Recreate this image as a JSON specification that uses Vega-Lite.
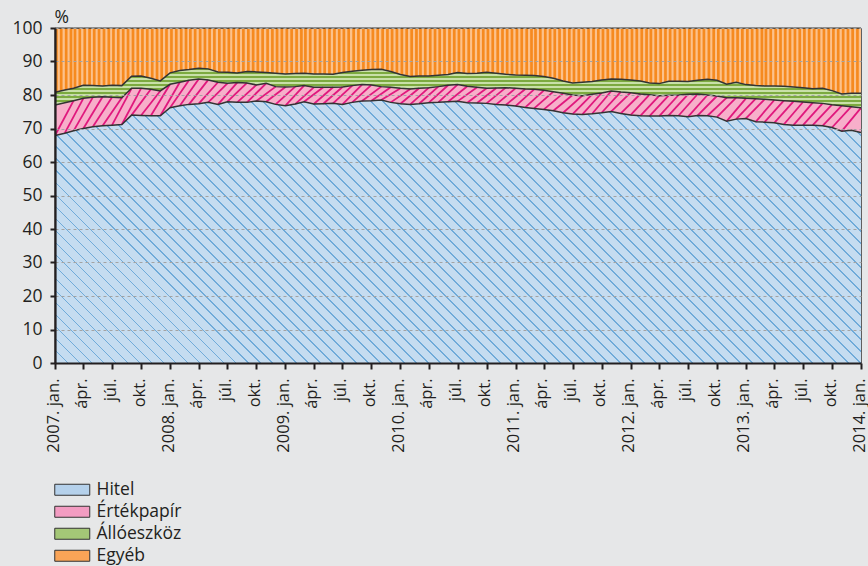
{
  "$schema": "https://vega.github.io/schema/vega-lite/v6.json",
  "width": 806,
  "height": 335,
  "autosize": "none",
  "padding": {"left": 55, "top": 28, "right": 7, "bottom": 203},
  "background": "#e6e7e8",
  "view": {"stroke": "#8c8c8c", "strokeWidth": 1},
  "data": {
    "format": {"parse": {"d": "date"}},
    "values": [
      {"d":"2007-01","Hitel":67.9,"Értékpapír":9.1,"Állóeszköz":3.8,"Egyéb":19.2},
      {"d":"2007-02","Hitel":68.6,"Értékpapír":9.1,"Állóeszköz":3.8,"Egyéb":18.5},
      {"d":"2007-03","Hitel":69.3,"Értékpapír":9.0,"Állóeszköz":3.7,"Egyéb":18.0},
      {"d":"2007-04","Hitel":70.0,"Értékpapír":9.0,"Állóeszköz":3.9,"Egyéb":17.1},
      {"d":"2007-05","Hitel":70.5,"Értékpapír":8.8,"Állóeszköz":3.5,"Egyéb":17.2},
      {"d":"2007-06","Hitel":70.8,"Értékpapír":8.7,"Állóeszköz":3.2,"Egyéb":17.3},
      {"d":"2007-07","Hitel":71.0,"Értékpapír":8.3,"Állóeszköz":3.6,"Egyéb":17.1},
      {"d":"2007-08","Hitel":71.2,"Értékpapír":8.0,"Állóeszköz":3.6,"Egyéb":17.2},
      {"d":"2007-09","Hitel":74.0,"Értékpapír":8.0,"Állóeszköz":3.6,"Egyéb":14.4},
      {"d":"2007-10","Hitel":73.9,"Értékpapír":8.1,"Állóeszköz":3.7,"Egyéb":14.3},
      {"d":"2007-11","Hitel":73.8,"Értékpapír":7.9,"Állóeszköz":3.3,"Egyéb":15.0},
      {"d":"2007-12","Hitel":73.8,"Értékpapír":7.4,"Állóeszköz":3.0,"Egyéb":15.8},
      {"d":"2008-01","Hitel":76.2,"Értékpapír":7.0,"Állóeszköz":3.4,"Egyéb":13.4},
      {"d":"2008-02","Hitel":76.8,"Értékpapír":7.0,"Állóeszköz":3.5,"Egyéb":12.7},
      {"d":"2008-03","Hitel":77.2,"Értékpapír":7.2,"Állóeszköz":3.2,"Egyéb":12.4},
      {"d":"2008-04","Hitel":77.4,"Értékpapír":7.4,"Állóeszköz":3.2,"Egyéb":12.0},
      {"d":"2008-05","Hitel":77.8,"Értékpapír":6.7,"Állóeszköz":3.3,"Egyéb":12.2},
      {"d":"2008-06","Hitel":77.2,"Értékpapír":6.6,"Állóeszköz":3.1,"Egyéb":13.1},
      {"d":"2008-07","Hitel":78.0,"Értékpapír":5.5,"Állóeszköz":3.3,"Egyéb":13.2},
      {"d":"2008-08","Hitel":77.8,"Értékpapír":5.9,"Állóeszköz":2.9,"Egyéb":13.4},
      {"d":"2008-09","Hitel":77.8,"Értékpapír":5.8,"Állóeszköz":3.4,"Egyéb":13.0},
      {"d":"2008-10","Hitel":78.2,"Értékpapír":4.8,"Állóeszköz":3.9,"Egyéb":13.1},
      {"d":"2008-11","Hitel":78.0,"Értékpapír":5.5,"Állóeszköz":3.2,"Egyéb":13.3},
      {"d":"2008-12","Hitel":77.2,"Értékpapír":5.3,"Állóeszköz":4.0,"Egyéb":13.5},
      {"d":"2009-01","Hitel":76.8,"Értékpapír":5.6,"Állóeszköz":3.9,"Egyéb":13.7},
      {"d":"2009-02","Hitel":77.3,"Értékpapír":5.2,"Állóeszköz":3.9,"Egyéb":13.6},
      {"d":"2009-03","Hitel":78.0,"Értékpapír":4.8,"Állóeszköz":3.7,"Egyéb":13.5},
      {"d":"2009-04","Hitel":77.3,"Értékpapír":5.0,"Állóeszköz":4.0,"Egyéb":13.7},
      {"d":"2009-05","Hitel":77.4,"Értékpapír":4.9,"Állóeszköz":4.0,"Egyéb":13.7},
      {"d":"2009-06","Hitel":77.5,"Értékpapír":4.8,"Állóeszköz":3.9,"Egyéb":13.8},
      {"d":"2009-07","Hitel":77.2,"Értékpapír":5.2,"Állóeszköz":4.3,"Egyéb":13.3},
      {"d":"2009-08","Hitel":77.8,"Értékpapír":5.0,"Állóeszköz":4.3,"Egyéb":12.9},
      {"d":"2009-09","Hitel":78.2,"Értékpapír":4.9,"Állóeszköz":4.3,"Egyéb":12.6},
      {"d":"2009-10","Hitel":78.3,"Értékpapír":4.7,"Állóeszköz":4.6,"Egyéb":12.4},
      {"d":"2009-11","Hitel":78.5,"Értékpapír":4.0,"Állóeszköz":5.2,"Egyéb":12.3},
      {"d":"2009-12","Hitel":77.8,"Értékpapír":4.5,"Állóeszköz":4.7,"Egyéb":13.0},
      {"d":"2010-01","Hitel":77.4,"Értékpapír":4.6,"Állóeszköz":4.1,"Egyéb":13.9},
      {"d":"2010-02","Hitel":77.2,"Értékpapír":4.6,"Állóeszköz":3.7,"Egyéb":14.5},
      {"d":"2010-03","Hitel":77.4,"Értékpapír":4.6,"Állóeszköz":3.7,"Egyéb":14.3},
      {"d":"2010-04","Hitel":77.7,"Értékpapír":4.5,"Állóeszköz":3.5,"Egyéb":14.3},
      {"d":"2010-05","Hitel":77.8,"Értékpapír":4.7,"Állóeszköz":3.4,"Egyéb":14.1},
      {"d":"2010-06","Hitel":78.0,"Értékpapír":4.9,"Állóeszköz":3.2,"Egyéb":13.9},
      {"d":"2010-07","Hitel":78.1,"Értékpapír":5.0,"Állóeszköz":3.6,"Egyéb":13.3},
      {"d":"2010-08","Hitel":77.7,"Értékpapír":4.9,"Állóeszköz":3.8,"Egyéb":13.6},
      {"d":"2010-09","Hitel":77.6,"Értékpapír":4.7,"Állóeszköz":4.2,"Egyéb":13.5},
      {"d":"2010-10","Hitel":77.5,"Értékpapír":4.5,"Állóeszköz":4.8,"Egyéb":13.2},
      {"d":"2010-11","Hitel":77.2,"Értékpapír":4.9,"Állóeszköz":4.4,"Egyéb":13.5},
      {"d":"2010-12","Hitel":77.0,"Értékpapír":5.2,"Állóeszköz":4.0,"Egyéb":13.8},
      {"d":"2011-01","Hitel":76.7,"Értékpapír":5.3,"Állóeszköz":4.0,"Egyéb":14.0},
      {"d":"2011-02","Hitel":76.3,"Értékpapír":5.5,"Állóeszköz":4.1,"Egyéb":14.1},
      {"d":"2011-03","Hitel":76.0,"Értékpapír":5.7,"Állóeszköz":4.1,"Egyéb":14.2},
      {"d":"2011-04","Hitel":75.7,"Értékpapír":5.7,"Állóeszköz":4.1,"Egyéb":14.5},
      {"d":"2011-05","Hitel":75.3,"Értékpapír":5.7,"Állóeszköz":4.0,"Egyéb":15.0},
      {"d":"2011-06","Hitel":74.7,"Értékpapír":5.8,"Állóeszköz":3.7,"Egyéb":15.8},
      {"d":"2011-07","Hitel":74.3,"Értékpapír":5.7,"Állóeszköz":3.6,"Egyéb":16.4},
      {"d":"2011-08","Hitel":74.2,"Értékpapír":5.6,"Állóeszköz":4.0,"Egyéb":16.2},
      {"d":"2011-09","Hitel":74.4,"Értékpapír":5.8,"Állóeszköz":3.8,"Egyéb":16.0},
      {"d":"2011-10","Hitel":74.7,"Értékpapír":5.9,"Állóeszköz":3.9,"Egyéb":15.5},
      {"d":"2011-11","Hitel":75.1,"Értékpapír":6.1,"Állóeszköz":3.6,"Egyéb":15.2},
      {"d":"2011-12","Hitel":74.5,"Értékpapír":6.4,"Állóeszköz":3.8,"Egyéb":15.3},
      {"d":"2012-01","Hitel":74.0,"Értékpapír":6.7,"Állóeszköz":3.8,"Egyéb":15.5},
      {"d":"2012-02","Hitel":73.8,"Értékpapír":6.5,"Állóeszköz":3.9,"Egyéb":15.8},
      {"d":"2012-03","Hitel":73.7,"Értékpapír":6.4,"Állóeszköz":3.5,"Egyéb":16.4},
      {"d":"2012-04","Hitel":73.7,"Értékpapír":6.1,"Állóeszköz":3.6,"Egyéb":16.6},
      {"d":"2012-05","Hitel":73.9,"Értékpapír":6.0,"Állóeszköz":4.2,"Egyéb":15.9},
      {"d":"2012-06","Hitel":73.8,"Értékpapír":6.2,"Állóeszköz":4.1,"Egyéb":15.9},
      {"d":"2012-07","Hitel":73.5,"Értékpapír":6.7,"Állóeszköz":3.8,"Egyéb":16.0},
      {"d":"2012-08","Hitel":73.9,"Értékpapír":6.4,"Állóeszköz":4.1,"Egyéb":15.6},
      {"d":"2012-09","Hitel":73.8,"Értékpapír":6.2,"Állóeszköz":4.7,"Egyéb":15.3},
      {"d":"2012-10","Hitel":73.4,"Értékpapír":6.3,"Állóeszköz":4.7,"Egyéb":15.6},
      {"d":"2012-11","Hitel":72.2,"Értékpapír":7.0,"Állóeszköz":4.0,"Egyéb":16.8},
      {"d":"2012-12","Hitel":72.8,"Értékpapír":6.4,"Állóeszköz":4.6,"Egyéb":16.2},
      {"d":"2013-01","Hitel":73.0,"Értékpapír":6.0,"Állóeszköz":4.1,"Egyéb":16.9},
      {"d":"2013-02","Hitel":72.0,"Értékpapír":6.9,"Állóeszköz":3.9,"Egyéb":17.2},
      {"d":"2013-03","Hitel":71.9,"Értékpapír":6.8,"Állóeszköz":4.0,"Egyéb":17.3},
      {"d":"2013-04","Hitel":71.7,"Értékpapír":6.8,"Állóeszköz":4.2,"Egyéb":17.3},
      {"d":"2013-05","Hitel":71.2,"Értékpapír":7.1,"Állóeszköz":4.3,"Egyéb":17.4},
      {"d":"2013-06","Hitel":71.0,"Értékpapír":7.1,"Állóeszköz":4.3,"Egyéb":17.6},
      {"d":"2013-07","Hitel":71.0,"Értékpapír":6.9,"Állóeszköz":4.3,"Egyéb":17.8},
      {"d":"2013-08","Hitel":71.0,"Értékpapír":6.7,"Állóeszköz":4.2,"Egyéb":18.1},
      {"d":"2013-09","Hitel":70.8,"Értékpapír":6.7,"Állóeszköz":4.5,"Egyéb":18.0},
      {"d":"2013-10","Hitel":70.3,"Értékpapír":6.8,"Állóeszköz":4.2,"Egyéb":18.7},
      {"d":"2013-11","Hitel":69.2,"Értékpapír":7.6,"Állóeszköz":3.5,"Egyéb":19.7},
      {"d":"2013-12","Hitel":69.5,"Értékpapír":7.0,"Állóeszköz":4.0,"Egyéb":19.5},
      {"d":"2014-01","Hitel":68.8,"Értékpapír":7.4,"Állóeszköz":4.3,"Egyéb":19.5}
    ]
  },
  "transform": [
    {"fold": ["Hitel", "Értékpapír", "Állóeszköz", "Egyéb"], "as": ["series", "value"]},
    {"window": [{"op": "row_number", "as": "k"}], "groupby": ["d"]},
    {"stack": "value", "groupby": ["d"], "sort": [{"field": "k", "order": "ascending"}], "as": ["v0", "v1"]}
  ],
  "encoding": {
    "x": {"field": "d", "type": "temporal", "scale": {"type": "utc", "domain": [{"year": 2007, "month": 1, "date": 1, "utc": true}, {"year": 2014, "month": 1, "date": 1, "utc": true}]},
      "axis": {
        "title": null,
        "tickCount": {"interval": "month", "step": 3},
        "labelExpr": "utcmonth(datum.value) == 0 ? utcyear(datum.value) + '. jan.' : utcmonth(datum.value) == 3 ? 'ápr.' : utcmonth(datum.value) == 6 ? 'júl.' : 'okt.'",
        "labelAngle": -90,
        "labelAlign": "right",
        "labelBaseline": "middle",
        "labelFontSize": 16.5,
        "labelPadding": 9,
        "labelOffset": -2,
        "labelFlush": false,
        "labelOverlap": false,
        "grid": false,
        "tickSize": 6,
        "tickWidth": 2,
        "tickColor": "#231f20",
        "domainColor": "#231f20",
        "domainWidth": 2.2,
        "zindex": 1
      }
    },
    "y": {"field": "v1", "type": "quantitative", "scale": {"domain": [0, 100], "nice": false, "zero": false},
      "axis": {
        "title": "%",
        "titleAngle": 0,
        "titleAlign": "left",
        "titleBaseline": "alphabetic",
        "titleX": -1,
        "titleY": -6,
        "titleFontSize": 17.5,
        "titleFontWeight": "normal",
        "titleColor": "#231f20",
        "values": [0, 10, 20, 30, 40, 50, 60, 70, 80, 90, 100],
        "labelOverlap": false,
        "labelPadding": 8,
        "grid": true,
        "gridColor": "#a3a3a3",
        "gridDash": [3, 3],
        "gridWidth": 1.2,
        "tickSize": 5,
        "tickWidth": 2,
        "tickColor": "#231f20",
        "domainColor": "#231f20",
        "domainWidth": 2.2,
        "zindex": 1
      }
    }
  },
  "layer": [
    {
      "mark": {"type": "area", "opacity": 1, "stroke": "#333333", "strokeWidth": 1},
      "encoding": {
        "y2": {"field": "v0"},
        "fill": {"field": "series", "type": "nominal",
          "scale": {"domain": ["Hitel", "Értékpapír", "Állóeszköz", "Egyéb"], "range": ["#b5d1eb", "#f39cc2", "#a4c777", "#f9a457"]},
          "legend": {"title": null, "orient": "none", "legendX": 8.5, "legendY": 453, "direction": "vertical",
            "symbolStrokeColor": "#333333", "symbolStrokeWidth": 1}
        }
      }
    },
    {
      "transform": [{"filter": {"field": "series", "equal": "Hitel"}}],
      "mark": {"type": "area", "opacity": 1,
        "fill": {"gradient": "linear", "x1": 0, "y1": 1, "x2": 1.1987, "y2": 0.6089, "stops": [
          {"offset":0,"color":"#70abd9"},{"offset":0.0017,"color":"#70abd9"},{"offset":0.0017,"color":"#c5dcf0"},{"offset":0.01124,"color":"#c5dcf0"},
          {"offset":0.01124,"color":"#70abd9"},{"offset":0.01294,"color":"#70abd9"},{"offset":0.01294,"color":"#c5dcf0"},{"offset":0.02247,"color":"#c5dcf0"},
          {"offset":0.02247,"color":"#70abd9"},{"offset":0.02417,"color":"#70abd9"},{"offset":0.02417,"color":"#c5dcf0"},{"offset":0.03371,"color":"#c5dcf0"},
          {"offset":0.03371,"color":"#70abd9"},{"offset":0.03541,"color":"#70abd9"},{"offset":0.03541,"color":"#c5dcf0"},{"offset":0.04494,"color":"#c5dcf0"},
          {"offset":0.04494,"color":"#70abd9"},{"offset":0.04664,"color":"#70abd9"},{"offset":0.04664,"color":"#c5dcf0"},{"offset":0.05618,"color":"#c5dcf0"},
          {"offset":0.05618,"color":"#70abd9"},{"offset":0.05788,"color":"#70abd9"},{"offset":0.05788,"color":"#c5dcf0"},{"offset":0.06742,"color":"#c5dcf0"},
          {"offset":0.06742,"color":"#70abd9"},{"offset":0.06912,"color":"#70abd9"},{"offset":0.06912,"color":"#c5dcf0"},{"offset":0.07865,"color":"#c5dcf0"},
          {"offset":0.07865,"color":"#70abd9"},{"offset":0.08035,"color":"#70abd9"},{"offset":0.08035,"color":"#c5dcf0"},{"offset":0.08989,"color":"#c5dcf0"},
          {"offset":0.08989,"color":"#70abd9"},{"offset":0.09159,"color":"#70abd9"},{"offset":0.09159,"color":"#c5dcf0"},{"offset":0.10112,"color":"#c5dcf0"},
          {"offset":0.10112,"color":"#70abd9"},{"offset":0.10282,"color":"#70abd9"},{"offset":0.10282,"color":"#c5dcf0"},{"offset":0.11236,"color":"#c5dcf0"},
          {"offset":0.11236,"color":"#70abd9"},{"offset":0.11406,"color":"#70abd9"},{"offset":0.11406,"color":"#c5dcf0"},{"offset":0.1236,"color":"#c5dcf0"},
          {"offset":0.1236,"color":"#70abd9"},{"offset":0.1253,"color":"#70abd9"},{"offset":0.1253,"color":"#c5dcf0"},{"offset":0.13483,"color":"#c5dcf0"},
          {"offset":0.13483,"color":"#70abd9"},{"offset":0.13653,"color":"#70abd9"},{"offset":0.13653,"color":"#c5dcf0"},{"offset":0.14607,"color":"#c5dcf0"},
          {"offset":0.14607,"color":"#70abd9"},{"offset":0.14777,"color":"#70abd9"},{"offset":0.14777,"color":"#c5dcf0"},{"offset":0.1573,"color":"#c5dcf0"},
          {"offset":0.1573,"color":"#70abd9"},{"offset":0.159,"color":"#70abd9"},{"offset":0.159,"color":"#c5dcf0"},{"offset":0.16854,"color":"#c5dcf0"},
          {"offset":0.16854,"color":"#70abd9"},{"offset":0.17024,"color":"#70abd9"},{"offset":0.17024,"color":"#c5dcf0"},{"offset":0.17978,"color":"#c5dcf0"},
          {"offset":0.17978,"color":"#70abd9"},{"offset":0.18148,"color":"#70abd9"},{"offset":0.18148,"color":"#c5dcf0"},{"offset":0.19101,"color":"#c5dcf0"},
          {"offset":0.19101,"color":"#70abd9"},{"offset":0.19271,"color":"#70abd9"},{"offset":0.19271,"color":"#c5dcf0"},{"offset":0.20225,"color":"#c5dcf0"},
          {"offset":0.20225,"color":"#70abd9"},{"offset":0.20395,"color":"#70abd9"},{"offset":0.20395,"color":"#c5dcf0"},{"offset":0.21348,"color":"#c5dcf0"},
          {"offset":0.21348,"color":"#70abd9"},{"offset":0.21518,"color":"#70abd9"},{"offset":0.21518,"color":"#c5dcf0"},{"offset":0.22472,"color":"#c5dcf0"},
          {"offset":0.22472,"color":"#70abd9"},{"offset":0.22642,"color":"#70abd9"},{"offset":0.22642,"color":"#c5dcf0"},{"offset":0.23596,"color":"#c5dcf0"},
          {"offset":0.23596,"color":"#70abd9"},{"offset":0.23766,"color":"#70abd9"},{"offset":0.23766,"color":"#c5dcf0"},{"offset":0.24719,"color":"#c5dcf0"},
          {"offset":0.24719,"color":"#70abd9"},{"offset":0.24889,"color":"#70abd9"},{"offset":0.24889,"color":"#c5dcf0"},{"offset":0.25843,"color":"#c5dcf0"},
          {"offset":0.25843,"color":"#70abd9"},{"offset":0.26013,"color":"#70abd9"},{"offset":0.26013,"color":"#c5dcf0"},{"offset":0.26966,"color":"#c5dcf0"},
          {"offset":0.26966,"color":"#70abd9"},{"offset":0.27136,"color":"#70abd9"},{"offset":0.27136,"color":"#c5dcf0"},{"offset":0.2809,"color":"#c5dcf0"},
          {"offset":0.2809,"color":"#70abd9"},{"offset":0.2826,"color":"#70abd9"},{"offset":0.2826,"color":"#c5dcf0"},{"offset":0.29213,"color":"#c5dcf0"},
          {"offset":0.29213,"color":"#70abd9"},{"offset":0.29383,"color":"#70abd9"},{"offset":0.29383,"color":"#c5dcf0"},{"offset":0.30337,"color":"#c5dcf0"},
          {"offset":0.30337,"color":"#70abd9"},{"offset":0.30507,"color":"#70abd9"},{"offset":0.30507,"color":"#c5dcf0"},{"offset":0.31461,"color":"#c5dcf0"},
          {"offset":0.31461,"color":"#70abd9"},{"offset":0.31631,"color":"#70abd9"},{"offset":0.31631,"color":"#c5dcf0"},{"offset":0.32584,"color":"#c5dcf0"},
          {"offset":0.32584,"color":"#70abd9"},{"offset":0.32754,"color":"#70abd9"},{"offset":0.32754,"color":"#c5dcf0"},{"offset":0.33708,"color":"#c5dcf0"},
          {"offset":0.33708,"color":"#70abd9"},{"offset":0.33878,"color":"#70abd9"},{"offset":0.33878,"color":"#c5dcf0"},{"offset":0.34831,"color":"#c5dcf0"},
          {"offset":0.34831,"color":"#70abd9"},{"offset":0.35001,"color":"#70abd9"},{"offset":0.35001,"color":"#c5dcf0"},{"offset":0.35955,"color":"#c5dcf0"},
          {"offset":0.35955,"color":"#70abd9"},{"offset":0.36125,"color":"#70abd9"},{"offset":0.36125,"color":"#c5dcf0"},{"offset":0.37079,"color":"#c5dcf0"},
          {"offset":0.37079,"color":"#70abd9"},{"offset":0.37249,"color":"#70abd9"},{"offset":0.37249,"color":"#c5dcf0"},{"offset":0.38202,"color":"#c5dcf0"},
          {"offset":0.38202,"color":"#70abd9"},{"offset":0.38372,"color":"#70abd9"},{"offset":0.38372,"color":"#c5dcf0"},{"offset":0.39326,"color":"#c5dcf0"},
          {"offset":0.39326,"color":"#70abd9"},{"offset":0.39496,"color":"#70abd9"},{"offset":0.39496,"color":"#c5dcf0"},{"offset":0.40449,"color":"#c5dcf0"},
          {"offset":0.40449,"color":"#70abd9"},{"offset":0.40619,"color":"#70abd9"},{"offset":0.40619,"color":"#c5dcf0"},{"offset":0.41573,"color":"#c5dcf0"},
          {"offset":0.41573,"color":"#70abd9"},{"offset":0.41743,"color":"#70abd9"},{"offset":0.41743,"color":"#c5dcf0"},{"offset":0.42697,"color":"#c5dcf0"},
          {"offset":0.42697,"color":"#70abd9"},{"offset":0.42867,"color":"#70abd9"},{"offset":0.42867,"color":"#c5dcf0"},{"offset":0.4382,"color":"#c5dcf0"},
          {"offset":0.4382,"color":"#70abd9"},{"offset":0.4399,"color":"#70abd9"},{"offset":0.4399,"color":"#c5dcf0"},{"offset":0.44944,"color":"#c5dcf0"},
          {"offset":0.44944,"color":"#70abd9"},{"offset":0.45114,"color":"#70abd9"},{"offset":0.45114,"color":"#c5dcf0"},{"offset":0.46067,"color":"#c5dcf0"},
          {"offset":0.46067,"color":"#70abd9"},{"offset":0.46237,"color":"#70abd9"},{"offset":0.46237,"color":"#c5dcf0"},{"offset":0.47191,"color":"#c5dcf0"},
          {"offset":0.47191,"color":"#70abd9"},{"offset":0.47361,"color":"#70abd9"},{"offset":0.47361,"color":"#c5dcf0"},{"offset":0.48315,"color":"#c5dcf0"},
          {"offset":0.48315,"color":"#70abd9"},{"offset":0.48485,"color":"#70abd9"},{"offset":0.48485,"color":"#c5dcf0"},{"offset":0.49438,"color":"#c5dcf0"},
          {"offset":0.49438,"color":"#70abd9"},{"offset":0.49608,"color":"#70abd9"},{"offset":0.49608,"color":"#c5dcf0"},{"offset":0.50562,"color":"#c5dcf0"},
          {"offset":0.50562,"color":"#70abd9"},{"offset":0.50732,"color":"#70abd9"},{"offset":0.50732,"color":"#c5dcf0"},{"offset":0.51685,"color":"#c5dcf0"},
          {"offset":0.51685,"color":"#70abd9"},{"offset":0.51855,"color":"#70abd9"},{"offset":0.51855,"color":"#c5dcf0"},{"offset":0.52809,"color":"#c5dcf0"},
          {"offset":0.52809,"color":"#70abd9"},{"offset":0.52979,"color":"#70abd9"},{"offset":0.52979,"color":"#c5dcf0"},{"offset":0.53933,"color":"#c5dcf0"},
          {"offset":0.53933,"color":"#70abd9"},{"offset":0.54103,"color":"#70abd9"},{"offset":0.54103,"color":"#c5dcf0"},{"offset":0.55056,"color":"#c5dcf0"},
          {"offset":0.55056,"color":"#70abd9"},{"offset":0.55226,"color":"#70abd9"},{"offset":0.55226,"color":"#c5dcf0"},{"offset":0.5618,"color":"#c5dcf0"},
          {"offset":0.5618,"color":"#70abd9"},{"offset":0.5635,"color":"#70abd9"},{"offset":0.5635,"color":"#c5dcf0"},{"offset":0.57303,"color":"#c5dcf0"},
          {"offset":0.57303,"color":"#70abd9"},{"offset":0.57473,"color":"#70abd9"},{"offset":0.57473,"color":"#c5dcf0"},{"offset":0.58427,"color":"#c5dcf0"},
          {"offset":0.58427,"color":"#70abd9"},{"offset":0.58597,"color":"#70abd9"},{"offset":0.58597,"color":"#c5dcf0"},{"offset":0.59551,"color":"#c5dcf0"},
          {"offset":0.59551,"color":"#70abd9"},{"offset":0.59721,"color":"#70abd9"},{"offset":0.59721,"color":"#c5dcf0"},{"offset":0.60674,"color":"#c5dcf0"},
          {"offset":0.60674,"color":"#70abd9"},{"offset":0.60844,"color":"#70abd9"},{"offset":0.60844,"color":"#c5dcf0"},{"offset":0.61798,"color":"#c5dcf0"},
          {"offset":0.61798,"color":"#70abd9"},{"offset":0.61968,"color":"#70abd9"},{"offset":0.61968,"color":"#c5dcf0"},{"offset":0.62921,"color":"#c5dcf0"},
          {"offset":0.62921,"color":"#70abd9"},{"offset":0.63091,"color":"#70abd9"},{"offset":0.63091,"color":"#c5dcf0"},{"offset":0.64045,"color":"#c5dcf0"},
          {"offset":0.64045,"color":"#70abd9"},{"offset":0.64215,"color":"#70abd9"},{"offset":0.64215,"color":"#c5dcf0"},{"offset":0.65169,"color":"#c5dcf0"},
          {"offset":0.65169,"color":"#70abd9"},{"offset":0.65339,"color":"#70abd9"},{"offset":0.65339,"color":"#c5dcf0"},{"offset":0.66292,"color":"#c5dcf0"},
          {"offset":0.66292,"color":"#70abd9"},{"offset":0.66462,"color":"#70abd9"},{"offset":0.66462,"color":"#c5dcf0"},{"offset":0.67416,"color":"#c5dcf0"},
          {"offset":0.67416,"color":"#70abd9"},{"offset":0.67586,"color":"#70abd9"},{"offset":0.67586,"color":"#c5dcf0"},{"offset":0.68539,"color":"#c5dcf0"},
          {"offset":0.68539,"color":"#70abd9"},{"offset":0.68709,"color":"#70abd9"},{"offset":0.68709,"color":"#c5dcf0"},{"offset":0.69663,"color":"#c5dcf0"},
          {"offset":0.69663,"color":"#70abd9"},{"offset":0.69833,"color":"#70abd9"},{"offset":0.69833,"color":"#c5dcf0"},{"offset":0.70787,"color":"#c5dcf0"},
          {"offset":0.70787,"color":"#70abd9"},{"offset":0.70957,"color":"#70abd9"},{"offset":0.70957,"color":"#c5dcf0"},{"offset":0.7191,"color":"#c5dcf0"},
          {"offset":0.7191,"color":"#70abd9"},{"offset":0.7208,"color":"#70abd9"},{"offset":0.7208,"color":"#c5dcf0"},{"offset":0.73034,"color":"#c5dcf0"},
          {"offset":0.73034,"color":"#70abd9"},{"offset":0.73204,"color":"#70abd9"},{"offset":0.73204,"color":"#c5dcf0"},{"offset":0.74157,"color":"#c5dcf0"},
          {"offset":0.74157,"color":"#70abd9"},{"offset":0.74327,"color":"#70abd9"},{"offset":0.74327,"color":"#c5dcf0"},{"offset":0.75281,"color":"#c5dcf0"},
          {"offset":0.75281,"color":"#70abd9"},{"offset":0.75451,"color":"#70abd9"},{"offset":0.75451,"color":"#c5dcf0"},{"offset":0.76404,"color":"#c5dcf0"},
          {"offset":0.76404,"color":"#70abd9"},{"offset":0.76574,"color":"#70abd9"},{"offset":0.76574,"color":"#c5dcf0"},{"offset":0.77528,"color":"#c5dcf0"},
          {"offset":0.77528,"color":"#70abd9"},{"offset":0.77698,"color":"#70abd9"},{"offset":0.77698,"color":"#c5dcf0"},{"offset":0.78652,"color":"#c5dcf0"},
          {"offset":0.78652,"color":"#70abd9"},{"offset":0.78822,"color":"#70abd9"},{"offset":0.78822,"color":"#c5dcf0"},{"offset":0.79775,"color":"#c5dcf0"},
          {"offset":0.79775,"color":"#70abd9"},{"offset":0.79945,"color":"#70abd9"},{"offset":0.79945,"color":"#c5dcf0"},{"offset":0.80899,"color":"#c5dcf0"},
          {"offset":0.80899,"color":"#70abd9"},{"offset":0.81069,"color":"#70abd9"},{"offset":0.81069,"color":"#c5dcf0"},{"offset":0.82022,"color":"#c5dcf0"},
          {"offset":0.82022,"color":"#70abd9"},{"offset":0.82192,"color":"#70abd9"},{"offset":0.82192,"color":"#c5dcf0"},{"offset":0.83146,"color":"#c5dcf0"},
          {"offset":0.83146,"color":"#70abd9"},{"offset":0.83316,"color":"#70abd9"},{"offset":0.83316,"color":"#c5dcf0"},{"offset":0.8427,"color":"#c5dcf0"},
          {"offset":0.8427,"color":"#70abd9"},{"offset":0.8444,"color":"#70abd9"},{"offset":0.8444,"color":"#c5dcf0"},{"offset":0.85393,"color":"#c5dcf0"},
          {"offset":0.85393,"color":"#70abd9"},{"offset":0.85563,"color":"#70abd9"},{"offset":0.85563,"color":"#c5dcf0"},{"offset":0.86517,"color":"#c5dcf0"},
          {"offset":0.86517,"color":"#70abd9"},{"offset":0.86687,"color":"#70abd9"},{"offset":0.86687,"color":"#c5dcf0"},{"offset":0.8764,"color":"#c5dcf0"},
          {"offset":0.8764,"color":"#70abd9"},{"offset":0.8781,"color":"#70abd9"},{"offset":0.8781,"color":"#c5dcf0"},{"offset":0.88764,"color":"#c5dcf0"},
          {"offset":0.88764,"color":"#70abd9"},{"offset":0.88934,"color":"#70abd9"},{"offset":0.88934,"color":"#c5dcf0"},{"offset":0.89888,"color":"#c5dcf0"},
          {"offset":0.89888,"color":"#70abd9"},{"offset":0.90058,"color":"#70abd9"},{"offset":0.90058,"color":"#c5dcf0"},{"offset":0.91011,"color":"#c5dcf0"},
          {"offset":0.91011,"color":"#70abd9"},{"offset":0.91181,"color":"#70abd9"},{"offset":0.91181,"color":"#c5dcf0"},{"offset":0.92135,"color":"#c5dcf0"},
          {"offset":0.92135,"color":"#70abd9"},{"offset":0.92305,"color":"#70abd9"},{"offset":0.92305,"color":"#c5dcf0"},{"offset":0.93258,"color":"#c5dcf0"},
          {"offset":0.93258,"color":"#70abd9"},{"offset":0.93428,"color":"#70abd9"},{"offset":0.93428,"color":"#c5dcf0"},{"offset":0.94382,"color":"#c5dcf0"},
          {"offset":0.94382,"color":"#70abd9"},{"offset":0.94552,"color":"#70abd9"},{"offset":0.94552,"color":"#c5dcf0"},{"offset":0.95506,"color":"#c5dcf0"},
          {"offset":0.95506,"color":"#70abd9"},{"offset":0.95676,"color":"#70abd9"},{"offset":0.95676,"color":"#c5dcf0"},{"offset":0.96629,"color":"#c5dcf0"},
          {"offset":0.96629,"color":"#70abd9"},{"offset":0.96799,"color":"#70abd9"},{"offset":0.96799,"color":"#c5dcf0"},{"offset":0.97753,"color":"#c5dcf0"},
          {"offset":0.97753,"color":"#70abd9"},{"offset":0.97923,"color":"#70abd9"},{"offset":0.97923,"color":"#c5dcf0"},{"offset":0.98876,"color":"#c5dcf0"},
          {"offset":0.98876,"color":"#70abd9"},{"offset":0.99046,"color":"#70abd9"},{"offset":0.99046,"color":"#c5dcf0"},{"offset":1,"color":"#c5dcf0"}
        ]}
      },
      "encoding": {
        "y2": {"field": "v0"}
      }
    },
    {
      "transform": [{"filter": {"field": "series", "equal": "Egyéb"}}],
      "mark": {"type": "area", "color": "#fcc18b", "opacity": 1},
      "encoding": {
        "y2": {"field": "v0"}
      }
    },
    {
      "transform": [{"filter": {"field": "series", "equal": "Értékpapír"}}],
      "mark": {"type": "rule", "clip": true, "strokeWidth": 2.7, "color": "#f68a1f", "xOffset": 1.4},
      "encoding": {
        "y2": {"datum": 100}
      }
    },
    {
      "transform": [{"filter": {"field": "series", "equal": "Értékpapír"}}],
      "mark": {"type": "rule", "clip": true, "strokeWidth": 2.7, "color": "#f68a1f", "xOffset": 6.2},
      "encoding": {
        "y2": {"datum": 100}
      }
    },
    {
      "transform": [{"filter": {"field": "series", "equal": "Állóeszköz"}}],
      "mark": {"type": "area", "opacity": 1,
        "fill": {"gradient": "linear", "x1": 0, "y1": 0, "x2": 0, "y2": 1, "stops": [
          {"offset": 0, "color": "#7caa40"}, {"offset": 0.055, "color": "#7caa40"}, {"offset": 0.055, "color": "#c8e0a8"}, {"offset": 0.1, "color": "#c8e0a8"},
          {"offset": 0.1, "color": "#7caa40"}, {"offset": 0.155, "color": "#7caa40"}, {"offset": 0.155, "color": "#c8e0a8"}, {"offset": 0.2, "color": "#c8e0a8"},
          {"offset": 0.2, "color": "#7caa40"}, {"offset": 0.255, "color": "#7caa40"}, {"offset": 0.255, "color": "#c8e0a8"}, {"offset": 0.3, "color": "#c8e0a8"},
          {"offset": 0.3, "color": "#7caa40"}, {"offset": 0.355, "color": "#7caa40"}, {"offset": 0.355, "color": "#c8e0a8"}, {"offset": 0.4, "color": "#c8e0a8"},
          {"offset": 0.4, "color": "#7caa40"}, {"offset": 0.455, "color": "#7caa40"}, {"offset": 0.455, "color": "#c8e0a8"}, {"offset": 0.5, "color": "#c8e0a8"},
          {"offset": 0.5, "color": "#7caa40"}, {"offset": 0.555, "color": "#7caa40"}, {"offset": 0.555, "color": "#c8e0a8"}, {"offset": 0.6, "color": "#c8e0a8"},
          {"offset": 0.6, "color": "#7caa40"}, {"offset": 0.655, "color": "#7caa40"}, {"offset": 0.655, "color": "#c8e0a8"}, {"offset": 0.7, "color": "#c8e0a8"},
          {"offset": 0.7, "color": "#7caa40"}, {"offset": 0.755, "color": "#7caa40"}, {"offset": 0.755, "color": "#c8e0a8"}, {"offset": 0.8, "color": "#c8e0a8"},
          {"offset": 0.8, "color": "#7caa40"}, {"offset": 0.855, "color": "#7caa40"}, {"offset": 0.855, "color": "#c8e0a8"}, {"offset": 0.9, "color": "#c8e0a8"},
          {"offset": 0.9, "color": "#7caa40"}, {"offset": 0.955, "color": "#7caa40"}, {"offset": 0.955, "color": "#c8e0a8"}, {"offset": 1, "color": "#c8e0a8"}
        ]}
      },
      "encoding": {
        "y2": {"field": "v0"}
      }
    },
    {
      "transform": [{"filter": {"field": "series", "equal": "Értékpapír"}}],
      "mark": {"type": "area", "color": "#f7afca", "opacity": 1},
      "encoding": {
        "y2": {"field": "v0"}
      }
    },
    {
      "transform": [
        {"filter": {"field": "series", "equal": "Értékpapír"}},
        {"window": [{"op": "lag", "field": "d", "param": 2, "as": "d2"}, {"op": "lag", "field": "v0", "param": 2, "as": "b2"}], "sort": [{"field": "d", "order": "ascending"}]},
        {"filter": {"field": "b2", "valid": true}}
      ],
      "mark": {"type": "rule", "clip": true, "strokeWidth": 1.8, "color": "#e0187d"},
      "encoding": {
        "x2": {"field": "d2"},
        "y2": {"field": "b2"}
      }
    },
    {
      "mark": {"type": "line", "clip": true, "color": "#333333", "strokeWidth": 1.5},
      "encoding": {
        "detail": {"field": "series"}
      }
    }
  ],
  "config": {
    "font": "Open Sans",
    "axis": {"labelFontSize": 17.5, "labelColor": "#231f20", "labelFont": "Open Sans"},
    "axisY": {"labelOverlap": false},
    "legend": {
      "symbolType": "M-3.5,-1.1L3.5,-1.1L3.5,1.1L-3.5,1.1Z",
      "symbolSize": 100,
      "symbolStrokeColor": "#333333",
      "symbolStrokeWidth": 1,
      "symbolOpacity": 1,
      "labelFontSize": 17.5,
      "labelColor": "#231f20",
      "labelOffset": 15.5,
      "rowPadding": 3,
      "padding": 0
    }
  }
}
